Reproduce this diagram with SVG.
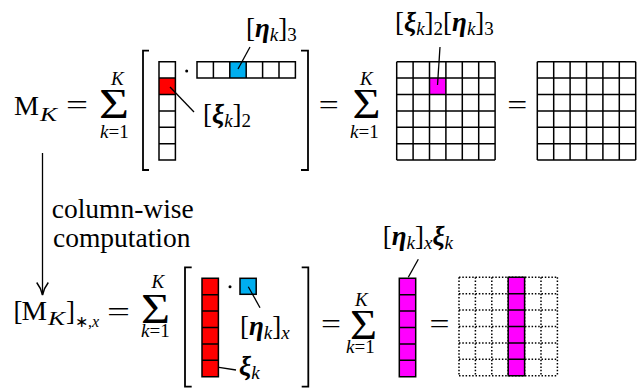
<svg xmlns="http://www.w3.org/2000/svg" width="642" height="388" viewBox="0 0 642 388">
<style>
text{font-family:"Liberation Serif","Times New Roman",serif;font-size:27px;fill:#000}
.i{font-style:italic}
.bi{font-style:italic;font-weight:bold}
.s{font-size:19px}
.ss{font-size:16px}
.big{font-size:43px}
.lbl{font-size:27.5px}
.cell{stroke:#000;stroke-width:1.5;fill:none}
.dotted{stroke:#000;stroke-width:1.5;fill:none;stroke-dasharray:1.5 1.8}
.br{stroke:#000;stroke-width:1.8;fill:none}
.ld{stroke:#000;stroke-width:1.3;fill:none}
.red{fill:#FF0000}
.blue{fill:#00AEEF}
.mag{fill:#FF00FF}
</style>
<defs>
<path id="grid6" d="M0,0H98.4M0,16.4H98.4M0,32.8H98.4M0,49.2H98.4M0,65.6H98.4M0,82H98.4M0,98.4H98.4M0,0V98.4M16.4,0V98.4M32.8,0V98.4M49.2,0V98.4M65.6,0V98.4M82,0V98.4M98.4,0V98.4"/>
<path id="col6" d="M0,0H16.4V98.4H0ZM0,16.4H16.4M0,32.8H16.4M0,49.2H16.4M0,65.6H16.4M0,82H16.4"/>
<path id="row6" d="M0,0H98.4V16.4H0ZM16.4,0V16.4M32.8,0V16.4M49.2,0V16.4M65.6,0V16.4M82,0V16.4"/>
<marker id="ah" viewBox="0 0 14 14" refX="13" refY="7" markerWidth="14" markerHeight="14" markerUnits="userSpaceOnUse" orient="auto">
<path d="M0.5,1.2 Q6,5.5 13,7 Q6,8.5 0.5,12.8" stroke="#000" stroke-width="1.5" fill="none"/>
</marker>
</defs>

<!-- top row formula -->
<g id="lhs-top">
<text x="14" y="115" textLength="25" lengthAdjust="spacingAndGlyphs">M</text>
<text class="i s" x="40" y="120.5" textLength="17" lengthAdjust="spacingAndGlyphs">K</text>
<text x="66" y="114" textLength="22" lengthAdjust="spacingAndGlyphs">=</text>
</g>
<g id="sum-top-1">
<text class="big" x="99" y="118" textLength="30" lengthAdjust="spacingAndGlyphs">Σ</text>
<text class="i s" x="111" y="85">K</text>
<text class="s" x="100" y="138"><tspan class="i">k</tspan>=1</text>
</g>
<g id="bracket-top">
<path class="br" d="M149,50.7H143V170H149"/>
<path class="br" d="M301,50.7H308V170H301"/>
</g>
<g id="xi-column-top">
<rect class="red" x="159" y="78.1" width="16.4" height="16.4"/>
<use href="#col6" class="cell" x="159" y="61.7"/>
</g>
<g id="dot-top"><circle cx="186.7" cy="71" r="1.5"/></g>
<g id="eta-row-top">
<rect class="blue" x="229.8" y="61.7" width="16.4" height="16.4"/>
<use href="#row6" class="cell" x="197" y="61.7"/>
</g>
<g id="label-eta3">
<text x="246" y="37">[<tspan class="bi">η</tspan><tspan class="i s" y="41">k</tspan><tspan y="37">]</tspan><tspan class="s" y="41">3</tspan></text>
</g>
<g id="label-xi2">
<text x="203" y="123">[<tspan class="bi">ξ</tspan><tspan class="i s" y="127">k</tspan><tspan y="123">]</tspan><tspan class="s" y="127">2</tspan></text>
</g>
<g id="eq-top-2">
<text x="318.7" y="114" textLength="20" lengthAdjust="spacingAndGlyphs">=</text>
</g>
<g id="sum-top-2">
<text class="big" x="352.5" y="118" textLength="28" lengthAdjust="spacingAndGlyphs">Σ</text>
<text class="i s" x="360" y="85">K</text>
<text class="s" x="350" y="138"><tspan class="i">k</tspan>=1</text>
</g>
<g id="grid-top-1">
<rect class="mag" x="429.5" y="78.1" width="16.4" height="16.4"/>
<use href="#grid6" class="cell" x="396.7" y="61.7"/>
</g>
<g id="label-prod">
<text x="395" y="31">[<tspan class="bi">ξ</tspan><tspan class="i s" y="35">k</tspan><tspan y="31">]</tspan><tspan class="s" y="35">2</tspan><tspan y="31">[</tspan><tspan class="bi">η</tspan><tspan class="i s" y="35">k</tspan><tspan y="31">]</tspan><tspan class="s" y="35">3</tspan></text>
</g>
<g id="eq-top-3">
<text x="507.3" y="114" textLength="20" lengthAdjust="spacingAndGlyphs">=</text>
</g>
<g id="grid-top-2">
<use href="#grid6" class="cell" x="537.3" y="61.7"/>
</g>

<!-- arrow label -->
<g id="label-colwise">
<text class="lbl" x="51.7" y="218">column-wise</text>
<text class="lbl" x="53" y="246.5">computation</text>
</g>

<!-- bottom row formula -->
<g id="lhs-bottom">
<text x="13.5" y="320">[</text>
<text x="21.5" y="320" textLength="25.5" lengthAdjust="spacingAndGlyphs">M</text>
<text class="i s" x="48" y="325" textLength="17" lengthAdjust="spacingAndGlyphs">K</text>
<text x="66" y="320">]</text>
<text class="ss" x="75" y="327">∗,<tspan class="i">x</tspan></text>
<text x="107" y="320.7" textLength="23" lengthAdjust="spacingAndGlyphs">=</text>
</g>
<g id="sum-bottom-1">
<text class="big" x="141" y="323" textLength="29" lengthAdjust="spacingAndGlyphs">Σ</text>
<text class="i s" x="151.5" y="288">K</text>
<text class="s" x="141" y="337"><tspan class="i">k</tspan>=1</text>
</g>
<g id="bracket-bottom">
<path class="br" d="M191.7,267.3H185V386.7H191.7"/>
<path class="br" d="M301.7,267.3H308.3V386.7H301.7"/>
</g>
<g id="xi-column-bottom">
<rect class="red" x="202" y="278.3" width="16.4" height="98.4"/>
<use href="#col6" class="cell" x="202" y="278.3"/>
</g>
<g id="dot-bottom"><circle cx="230" cy="286.7" r="1.5"/></g>
<g id="eta-cell-bottom">
<rect class="cell" x="240" y="278.3" width="16.2" height="16" style="fill:#00AEEF"/>
</g>
<g id="label-etax">
<text x="240" y="335">[<tspan class="bi">η</tspan><tspan class="i s" y="339">k</tspan><tspan y="335">]</tspan><tspan class="i s" y="339">x</tspan></text>
</g>
<g id="label-xik">
<text x="239" y="375"><tspan class="bi">ξ</tspan><tspan class="i s" y="379">k</tspan></text>
</g>
<g id="eq-bottom-2">
<text x="321" y="333" textLength="20" lengthAdjust="spacingAndGlyphs">=</text>
</g>
<g id="sum-bottom-2">
<text class="big" x="350" y="339.3" textLength="27" lengthAdjust="spacingAndGlyphs">Σ</text>
<text class="i s" x="355" y="306">K</text>
<text class="s" x="346" y="353"><tspan class="i">k</tspan>=1</text>
</g>
<g id="mag-column">
<rect class="mag" x="399.3" y="278.3" width="16.4" height="98.4"/>
<use href="#col6" class="cell" x="399.3" y="278.3"/>
</g>
<g id="label-etaxxi">
<text x="382.7" y="245">[<tspan class="bi">η</tspan><tspan class="i s" y="249">k</tspan><tspan y="245">]</tspan><tspan class="i s" y="249">x</tspan><tspan class="bi" y="245">ξ</tspan><tspan class="i s" y="249">k</tspan></text>
</g>
<g id="eq-bottom-3">
<text x="429.5" y="333" textLength="20" lengthAdjust="spacingAndGlyphs">=</text>
</g>
<g id="grid-bottom">
<use href="#grid6" class="dotted" x="459" y="277.3"/>
<rect class="mag" x="508.2" y="277.3" width="16.4" height="98.4"/>
<use href="#col6" class="cell" x="508.2" y="277.3"/>
</g>

<g id="connectors">
<line class="ld" x1="42.5" y1="153" x2="42.5" y2="295" marker-end="url(#ah)"/>
<line class="ld" x1="250" y1="47" x2="238" y2="69"/>
<line class="ld" x1="170" y1="87" x2="194" y2="112"/>
<line class="ld" x1="440" y1="47" x2="437.5" y2="85"/>
<line class="ld" x1="248.3" y1="286.7" x2="260" y2="307.7"/>
<line class="ld" x1="219" y1="367.3" x2="236" y2="370"/>
<line class="ld" x1="418.3" y1="259.3" x2="408.3" y2="277.3"/>
</g>
</svg>
